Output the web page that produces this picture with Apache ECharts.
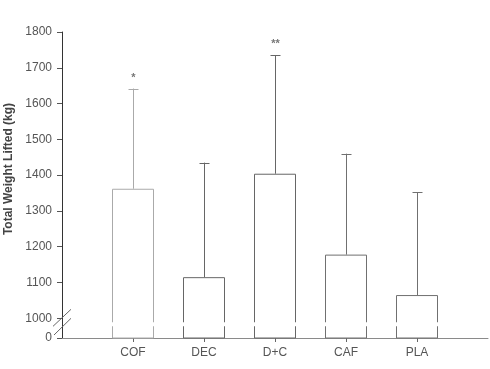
<!DOCTYPE html>
<html>
<head>
<meta charset="utf-8">
<script src="https://cdn.jsdelivr.net/npm/echarts@6/dist/echarts.min.js"></script>
<style>html,body{margin:0;padding:0;background:#fff}#c{width:490px;height:369px}</style>
</head>
<body>
<div id="c"></div>
<script>
var categories = ['COF', 'DEC', 'D+C', 'CAF', 'PLA'];
var means = [1362, 1115, 1404, 1178, 1065];
var upperErr = [1642, 1435, 1735, 1460, 1352];
var significance = ['*', '', '**', '', ''];
var yTicks = [1000, 1100, 1200, 1300, 1400, 1500, 1600, 1700, 1800];
var axisBase = 945; // shown as "0" below the axis break

var xData = [''].concat(categories).concat([' ']);
var barColors = ['#aaaaaa', '#666666', '#666666', '#707070', '#707070'];

var chart = echarts.init(document.getElementById('c'));
var font = 'Liberation Sans, Arial, sans-serif';

chart.setOption({
  animation: false,
  grid: { left: 62, right: 2, top: 32, bottom: 31, containLabel: false, outerBoundsMode: 'none' },
  xAxis: {
    type: 'category',
    data: xData,
    boundaryGap: false,
    axisLine: { lineStyle: { color: '#8a8a8a', width: 1 } },
    axisTick: { length: 4, lineStyle: { color: '#666' },
      interval: function (i, v) { return v.trim() !== ''; } },
    axisLabel: { color: '#555', fontSize: 12, fontFamily: font, margin: 9,
      interval: function (i, v) { return v.trim() !== ''; } },
    splitLine: { show: false }
  },
  yAxis: {
    type: 'value',
    min: axisBase,
    max: 1800,
    name: 'Total Weight Lifted (kg)',
    nameLocation: 'middle',
    nameGap: 46,
    nameTextStyle: { color: '#444', fontSize: 12, fontWeight: 'bold', fontFamily: font, padding: [0, 0, 0, 32] },
    axisLine: { show: true, lineStyle: { color: '#333', width: 1 } },
    axisTick: { show: true, length: 5, lineStyle: { color: '#555' }, customValues: [axisBase].concat(yTicks) },
    axisLabel: { color: '#555', fontSize: 12, fontFamily: font, margin: 10,
      customValues: [axisBase].concat(yTicks),
      formatter: function (v) { return v === axisBase ? '0' : String(v); } },
    splitLine: { show: false }
  },
  series: [
    {
      type: 'bar',
      barWidth: 42,
      data: categories.map(function (c, i) {
        return { value: [c, means[i]], itemStyle: { color: '#fff', borderColor: barColors[i], borderWidth: 1 } };
      }),
      z: 2
    },
    {
      type: 'custom',
      z: 3,
      data: categories.map(function (c, i) { return [c, means[i], upperErr[i], i]; }),
      renderItem: function (params, api) {
        var i = api.value(3);
        var p0 = api.coord([api.value(0), api.value(1)]);
        var p1 = api.coord([api.value(0), api.value(2)]);
        var x = Math.round(p0[0]) + 0.5;
        var col = barColors[i];
        var children = [
          { type: 'line', shape: { x1: x, y1: p0[1], x2: x, y2: p1[1] }, style: { stroke: col, lineWidth: 1 } },
          { type: 'line', shape: { x1: x - 5, y1: Math.round(p1[1]) + 0.5, x2: x + 5, y2: Math.round(p1[1]) + 0.5 }, style: { stroke: col, lineWidth: 1 } }
        ];
        if (significance[i]) {
          children.push({ type: 'text', style: { text: significance[i], x: x, y: p1[1] - 11, align: 'center', verticalAlign: 'middle',
            fill: '#777', font: 'bold 11px ' + font } });
        }
        return { type: 'group', children: children };
      }
    }
  ]
});

// axis-break decorations
var y1000 = chart.convertToPixel({ yAxisIndex: 0 }, 1000);
var y0 = chart.convertToPixel({ yAxisIndex: 0 }, axisBase);
var ax = chart.convertToPixel({ xAxisIndex: 0 }, 0);
var xEnd = chart.convertToPixel({ xAxisIndex: 0 }, xData.length - 1);
chart.setOption({
  graphic: [
    { type: 'rect', shape: { x: ax + 1, y: y1000 + 4, width: xEnd - ax - 2, height: 4 }, style: { fill: '#fff' }, z: 10 },
    { type: 'line', shape: { x1: ax - 9, y1: y1000 + 8, x2: ax + 9, y2: y1000 - 9 }, style: { stroke: '#666', lineWidth: 1 }, z: 11 },
    { type: 'line', shape: { x1: ax - 8, y1: y0 - 3, x2: ax + 9, y2: y1000 }, style: { stroke: '#666', lineWidth: 1 }, z: 11 }
  ]
});
</script>
</body>
</html>
